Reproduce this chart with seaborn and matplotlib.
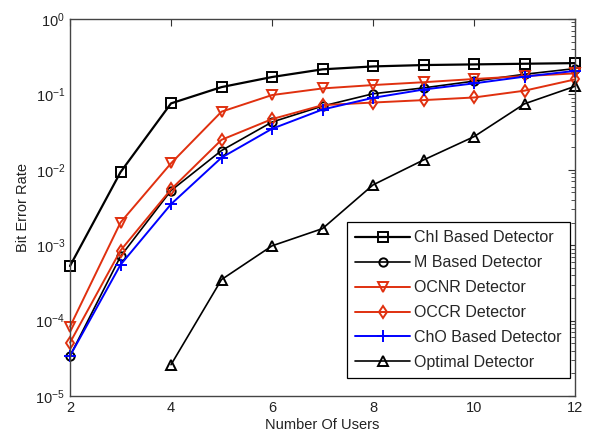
import numpy as np
import pandas as pd
import matplotlib
matplotlib.use("Agg")
import matplotlib.pyplot as plt
import seaborn as sns
from matplotlib.ticker import LogLocator, FixedLocator

users = [2, 3, 4, 5, 6, 7, 8, 9, 10, 11, 12]
chi_based = [5.3e-4, 9.3e-3, 0.076, 0.125, 0.17, 0.215, 0.235, 0.245, 0.25, 0.255, 0.26]
m_based = [3.4e-5, 7.1e-4, 5.3e-3, 0.018, 0.043, 0.070, 0.102, 0.122, 0.150, 0.185, 0.22]
ocnr = [8.3e-5, 2.0e-3, 0.0122, 0.059, 0.098, 0.120, 0.133, 0.145, 0.160, 0.175, 0.19]
occr = [5.1e-5, 8.5e-4, 5.5e-3, 0.025, 0.047, 0.072, 0.078, 0.084, 0.091, 0.112, 0.158]
cho_based = [3.4e-5, 5.5e-4, 3.5e-3, 0.0145, 0.035, 0.063, 0.090, 0.116, 0.140, 0.172, 0.205]
optimal = [np.nan, np.nan, 2.6e-5, 3.5e-4, 9.8e-4, 1.66e-3, 6.3e-3, 0.0135, 0.0275, 0.075, 0.128]

labels = ["ChI Based Detector", "M Based Detector", "OCNR Detector",
          "OCCR Detector", "ChO Based Detector", "Optimal Detector"]
x_ticks = [2, 4, 6, 8, 10, 12]

sns.set_style("white")
plt.rcParams['font.family'] = ['Liberation Sans', 'DejaVu Sans']
plt.rcParams['mathtext.fontset'] = 'custom'
plt.rcParams['mathtext.rm'] = 'Liberation Sans'
plt.rcParams['mathtext.it'] = 'Liberation Sans'
plt.rcParams['axes.unicode_minus'] = False

fig = plt.figure(figsize=(5.9, 4.41), dpi=100)
ax = fig.add_axes([70/590, 1 - 396/441, 505/590, 377/441])

red = '#e0300f'
styles = [
    (chi_based, 'black', 's', 7.5, 1.6),
    (m_based, 'black', 'o', 6, 1.2),
    (ocnr, red, 'v', 7.5, 1.4),
    (occr, red, 'd', 6.5, 1.4),
    (cho_based, '#0000ff', '+', 8, 1.4),
    (optimal, 'black', '^', 7.5, 1.2),
]

for (vals, col, mk, ms, lw), lab in zip(styles, labels):
    df = pd.DataFrame({"users": users, "ber": vals}).dropna()
    sns.lineplot(data=df, x="users", y="ber", ax=ax, color=col, marker=mk,
                 markersize=ms, linewidth=lw, markerfacecolor='none',
                 markeredgecolor=col, markeredgewidth=1.4, label=lab,
                 clip_on=False)

ax.set_yscale('log')
ax.set_xlim(2, 12)
ax.set_ylim(1e-5, 1)
ax.xaxis.set_major_locator(FixedLocator(x_ticks))
ax.yaxis.set_major_locator(LogLocator(base=10, numticks=10))
ax.yaxis.set_minor_locator(LogLocator(base=10, subs=np.arange(2, 10), numticks=20))

ax.tick_params(axis='both', which='both', direction='in', top=True, right=True,
               labelsize=10.5, colors='#333333', labelcolor='#222222')
ax.tick_params(which='major', length=5, width=0.8)
ax.tick_params(which='minor', length=3, width=0.6)
for s in ax.spines.values():
    s.set_color('#444444')
    s.set_linewidth(1.0)

ax.set_xlabel("Number Of Users", fontsize=10.5, color='#222222', labelpad=2)
ax.set_ylabel("Bit Error Rate", fontsize=10.5, color='#222222', labelpad=4)

leg = ax.legend(loc='lower right', bbox_to_anchor=(0.99, 0.048), fontsize=11.5,
                frameon=True, fancybox=False, handlelength=3.4, borderpad=0.5,
                labelspacing=0.62, handletextpad=0.3, borderaxespad=0)
leg.get_frame().set_edgecolor('black')
leg.get_frame().set_linewidth(0.9)
leg.get_frame().set_alpha(1)

fig.savefig("out.png", dpi=100)
